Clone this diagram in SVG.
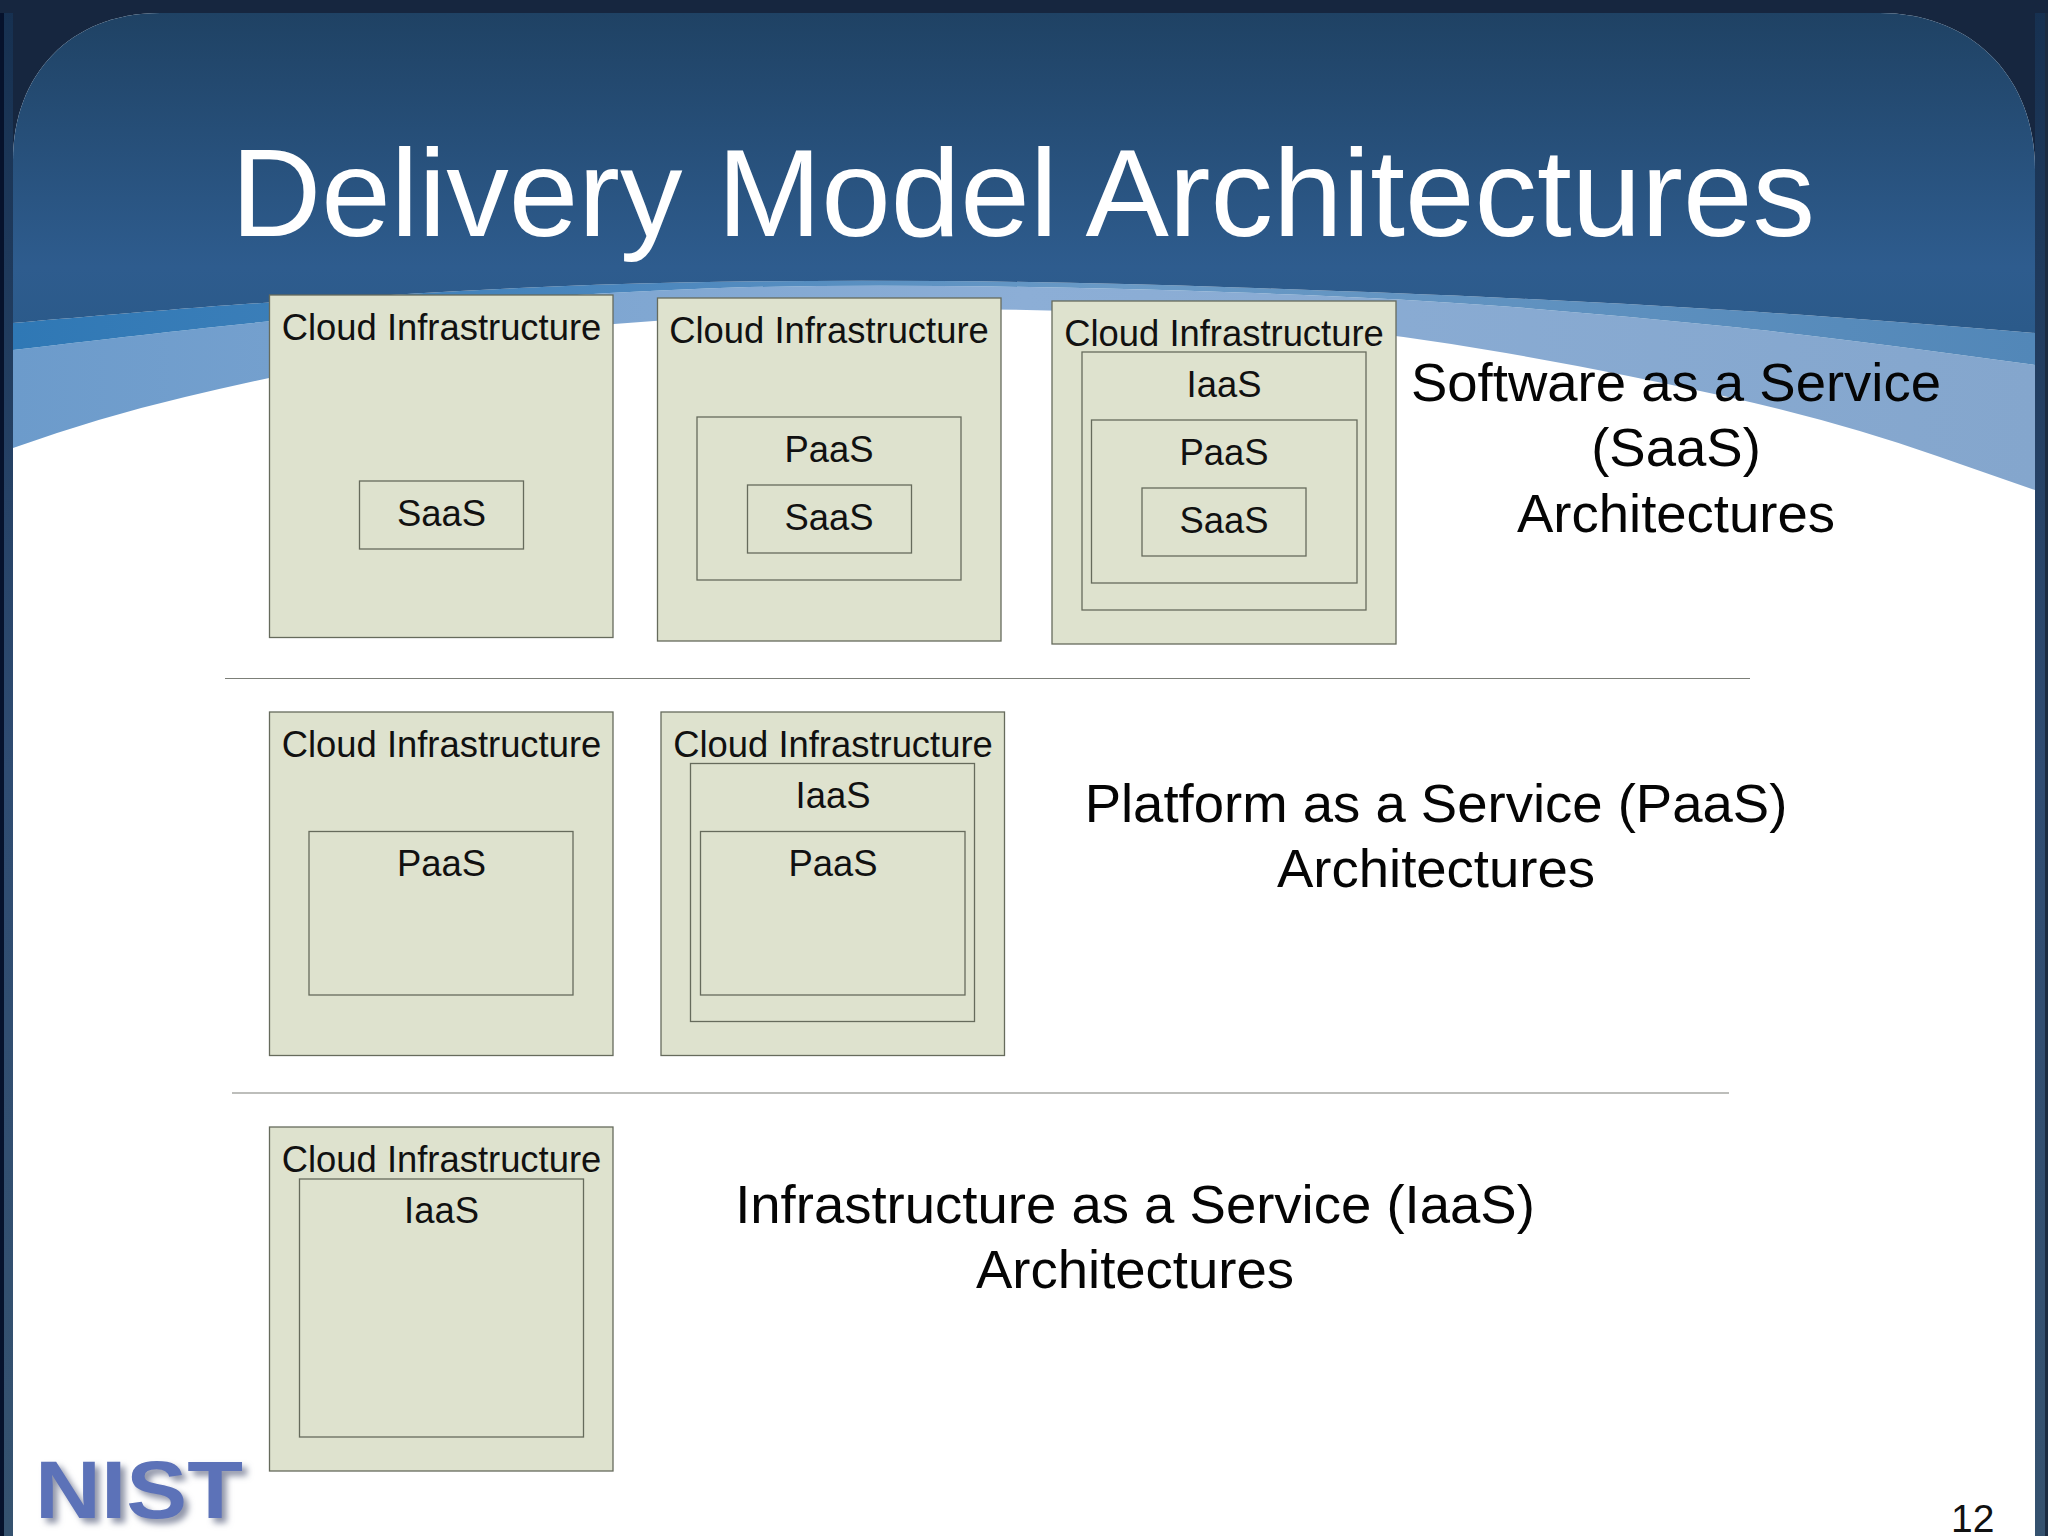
<svg xmlns="http://www.w3.org/2000/svg" width="2048" height="1536" viewBox="0 0 2048 1536">
<style>
text{font-family:"Liberation Sans",Arial,sans-serif;fill:#111}
.b{fill:#dee2ce;stroke:#666b5c;stroke-width:1.3}
.l{font-size:36.4px;text-anchor:middle}
.t{font-size:54.5px;text-anchor:middle;fill:#050505}
.d{stroke:#7c7f78;stroke-width:1.1;fill:none}
</style>
<defs>
<linearGradient id="frame" x1="0" y1="0" x2="0" y2="1"><stop offset="0" stop-color="#163050"/><stop offset="0.5" stop-color="#2f4c72"/><stop offset="1" stop-color="#35526f"/></linearGradient>
<linearGradient id="sky" gradientUnits="userSpaceOnUse" x1="0" y1="13" x2="0" y2="330"><stop offset="0" stop-color="#1f4264"/><stop offset="0.8" stop-color="#2e5c8e"/><stop offset="1" stop-color="#2b5a8a"/></linearGradient>
<linearGradient id="mid" x1="0" y1="0" x2="1" y2="0"><stop offset="0" stop-color="#2f78b5"/><stop offset="0.3" stop-color="#4a86bd"/><stop offset="0.55" stop-color="#6a9ac6"/><stop offset="1" stop-color="#5287b8"/></linearGradient>
<linearGradient id="light" x1="0" y1="0" x2="1" y2="0"><stop offset="0" stop-color="#6c9bcb"/><stop offset="0.5" stop-color="#8caed6"/><stop offset="1" stop-color="#84a6cd"/></linearGradient>
<filter id="sh" x="-10%" y="-20%" width="125%" height="150%"><feDropShadow dx="5" dy="5" stdDeviation="3" flood-color="#8f94a8"/></filter>
<clipPath id="panel"><path d="M13,160 C13,75 70,13 160,13 H1880 C1970,13 2035,75 2035,170 V1536 H13 Z"/></clipPath>
</defs>
<g id="background">
<rect width="2048" height="1536" fill="#16263f"/>
<rect x="0" y="0" width="13" height="1536" fill="url(#frame)"/>
<rect x="0" y="0" width="4" height="1536" fill="#06122c"/>
<rect x="2035" y="0" width="13" height="1536" fill="url(#frame)"/>
<rect x="2045" y="0" width="3" height="1536" fill="#1b2c42"/>
<rect x="0" y="0" width="2048" height="13" fill="#16263f"/>
<g clip-path="url(#panel)">
<rect x="13" y="13" width="2022" height="1523" fill="#fff"/>
<path fill="url(#light)" d="M13,350 Q140,335 205,328 Q270,321 355,313 Q440,305 526,298.5 Q613,292 706,288.5 Q800,285 940,286 Q1080,287 1238,292.5 Q1397,298 1506,306.5 Q1616,315 1728,326.5 Q1840,338 2035,365 V490 L1937,456 Q1840,422 1728,397 Q1616,372 1506,353 Q1397,334 1298,325 Q1200,316 1100,312 Q1001,308 900,310 Q800,312 706,317.5 Q613,323 531,332 Q450,341 360,359 Q270,377 185,397 Q100,417 13,448 Z"/>
<path fill="url(#mid)" d="M13,323 Q140,312 205,307 Q270,302 415,293.5 Q560,285 680,282.5 Q800,280 940,281 Q1080,282 1238,287.5 Q1397,293 1506,298 Q1616,303 1728,310 Q1840,317 2035,333 V365 Q1840,338 1728,326.5 Q1616,315 1506,306.5 Q1397,298 1238,292.5 Q1080,287 940,286 Q800,285 706,288.5 Q613,292 526,298.5 Q440,305 355,313 Q270,321 205,328 Q140,335 13,350 Z"/>
<path fill="url(#sky)" d="M13,13 H2035 V333 Q1840,317 1728,310 Q1616,303 1506,298 Q1397,293 1238,287.5 Q1080,282 940,281 Q800,280 680,282.5 Q560,285 415,293.5 Q270,302 205,307 Q140,312 13,323 Z"/>
</g>
</g>
<text id="title" x="231" y="236" style="font-size:125px;fill:#fff">Delivery Model Architectures</text>
<g id="logo">
<text x="35" y="1518" textLength="208" lengthAdjust="spacingAndGlyphs" filter="url(#sh)" style="font-size:81px;font-weight:bold;fill:#5b72b8">NIST</text>
</g>
<g id="dividers">
<line class="d" x1="225" y1="678.5" x2="1750" y2="678.5"/>
<line class="d" x1="232" y1="1093" x2="1729" y2="1093"/>
</g>
<g id="saas-cloud-1">
<rect class="b" x="269.5" y="295" width="343.5" height="342.5"/>
<text class="l" x="441.5" y="339.5">Cloud Infrastructure</text>
<g id="saas-1-saas"><rect class="b" x="359.5" y="481" width="164" height="68"/><text class="l" x="441.5" y="526">SaaS</text></g>
</g>
<g id="saas-cloud-2">
<rect class="b" x="657.5" y="298" width="343.5" height="343"/>
<text class="l" x="829" y="342.5">Cloud Infrastructure</text>
<g id="saas-2-paas"><rect class="b" x="697" y="417" width="264" height="163"/><text class="l" x="829" y="462">PaaS</text></g>
<g id="saas-2-saas"><rect class="b" x="747.5" y="485" width="164" height="68"/><text class="l" x="829" y="530">SaaS</text></g>
</g>
<g id="saas-cloud-3">
<rect class="b" x="1052" y="301" width="344" height="343"/>
<text class="l" x="1224" y="346">Cloud Infrastructure</text>
<g id="saas-3-iaas"><rect class="b" x="1082" y="352" width="284" height="258"/><text class="l" x="1224" y="397">IaaS</text></g>
<g id="saas-3-paas"><rect class="b" x="1091.5" y="420" width="265.5" height="163"/><text class="l" x="1224" y="465">PaaS</text></g>
<g id="saas-3-saas"><rect class="b" x="1142" y="488" width="164" height="68"/><text class="l" x="1224" y="533">SaaS</text></g>
</g>
<g id="paas-cloud-1">
<rect class="b" x="269.5" y="712" width="343.5" height="343.5"/>
<text class="l" x="441.5" y="757">Cloud Infrastructure</text>
<g id="paas-1-paas"><rect class="b" x="309" y="831.5" width="264" height="163.5"/><text class="l" x="441.5" y="876">PaaS</text></g>
</g>
<g id="paas-cloud-2">
<rect class="b" x="661" y="712" width="343.5" height="343.5"/>
<text class="l" x="833" y="757">Cloud Infrastructure</text>
<g id="paas-2-iaas"><rect class="b" x="690.5" y="763.5" width="284" height="258"/><text class="l" x="833" y="808">IaaS</text></g>
<g id="paas-2-paas"><rect class="b" x="700.5" y="831.5" width="264.5" height="163.5"/><text class="l" x="833" y="876">PaaS</text></g>
</g>
<g id="iaas-cloud-1">
<rect class="b" x="269.5" y="1127" width="343.5" height="344"/>
<text class="l" x="441.5" y="1172">Cloud Infrastructure</text>
<g id="iaas-1-iaas"><rect class="b" x="299.5" y="1179" width="284" height="258"/><text class="l" x="441.5" y="1223">IaaS</text></g>
</g>
<g id="captions">
<text class="t" x="1676" y="401">Software as a Service</text>
<text class="t" x="1676" y="466">(SaaS)</text>
<text class="t" x="1676" y="532">Architectures</text>
<text class="t" x="1436" y="822">Platform as a Service (PaaS)</text>
<text class="t" x="1436" y="887">Architectures</text>
<text class="t" x="1135" y="1223">Infrastructure as a Service (IaaS)</text>
<text class="t" x="1135" y="1288">Architectures</text>
</g>
<text id="page-number" x="1951" y="1532" style="font-size:39px">12</text>
</svg>
